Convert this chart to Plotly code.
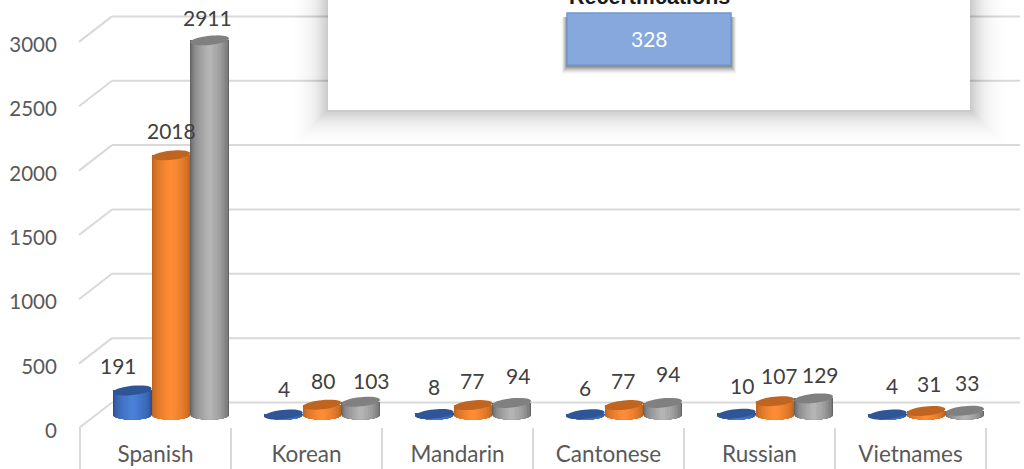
import math
import plotly.graph_objects as go

# ---- data ----
categories = ["Spanish", "Korean", "Mandarin", "Cantonese", "Russian", "Vietnames"]
series_a = [191, 4, 8, 6, 10, 4]
series_b = [2018, 80, 77, 77, 107, 31]
series_c = [2911, 103, 94, 94, 129, 33]
y_ticks = [0, 500, 1000, 1500, 2000, 2500, 3000]
panel_title = "Recertifications"
panel_value = "328"

# ---- layout geometry (pixels) ----
W, H = 1024, 469
PLOT_L, PLOT_R, FRONT_ZERO = 80, 986, 428
BAR_ZERO = 415
PX_PER_UNIT = 0.1287
CAT_PX = (PLOT_R - PLOT_L) / len(categories)
BAR_PX = 38.7
GROUP_SHIFT = 15.5
EDGE_A, EDGE_B = 19.4, 4.6
TILT = math.radians(-6)
LAYERS = [1.0, 0.96, 0.92, 0.87, 0.81, 0.74, 0.66, 0.57, 0.47, 0.36, 0.24, 0.12]

palette = [
    dict(edge="#28508f", mid="#4a80d8", top="#2f5597"),
    dict(edge="#b35c1a", mid="#ff8c35", top="#c0651f"),
    dict(edge="#646464", mid="#b4b4b4", top="#808080"),
]
all_series = [series_a, series_b, series_c]

# label nudges in pixels from the top of each cylinder
label_dx = [[-14, 1, 0, 0, 6, 5], [0, 1, -1, -1, 4, 3], [-2, 11, 6, 5, 7, 2]]
label_up = [[25, 26, 27, 27, 28, 29], [25, 24, 25, 25, 26, 28], [23, 21, 27, 29, 24, 28]]


def mix(c1, c2, t):
    a = [int(c1[i:i + 2], 16) for i in (1, 3, 5)]
    b = [int(c2[i:i + 2], 16) for i in (1, 3, 5)]
    return "#%02x%02x%02x" % tuple(round(a[i] + (b[i] - a[i]) * t) for i in range(3))


def px(x):
    return x / W


def py(y):
    return 1 - y / H


def ell_point(xc, yc, theta, tilt=TILT):
    """Point on a tilted ellipse around category xc, value yc; returns axis units."""
    dx = EDGE_A * math.cos(theta)
    dy = EDGE_B * math.sin(theta)
    xp = dx * math.cos(tilt) - dy * math.sin(tilt)
    yp = dx * math.sin(tilt) + dy * math.cos(tilt)
    return xc + xp / CAT_PX, yc - yp / PX_PER_UNIT


def to_path(points):
    return "M" + " L".join(f"{x:.4f},{y:.2f}" for x, y in points) + " Z"


fig = go.Figure()
shapes = []
annotations = []


def paper_line(x0, y0, x1, y1, color="#d9d9d9", width=2):
    shapes.append(dict(type="line", xref="paper", yref="paper", x0=px(x0), x1=px(x1),
                       y0=py(y0), y1=py(y1), layer="below",
                       line=dict(color=color, width=width)))


def paper_rect(x0, y0, x1, y1, fill, line=None, lw=0):
    shapes.append(dict(type="rect", xref="paper", yref="paper", x0=px(x0), x1=px(x1),
                       y0=py(y0), y1=py(y1), layer="above", fillcolor=fill,
                       line=dict(color=line or "rgba(0,0,0,0)", width=lw)))


# back wall and side wall lines
for tick in y_ticks:
    front_y = FRONT_ZERO - tick * PX_PER_UNIT
    paper_line(79, front_y, 112, front_y - 25.5)
    paper_line(112, front_y - 25.5, 1020, front_y - 25.5)

# category dividers
for i in range(len(categories) + 1):
    x = PLOT_L + i * CAT_PX
    paper_line(x, FRONT_ZERO, x, H)

# holds the value axis that carries the tick labels
fig.add_trace(go.Scatter(x=[categories[0]] * len(y_ticks), y=y_ticks, mode="markers",
                         marker=dict(opacity=0, size=1), showlegend=False, hoverinfo="skip"))

# cylinders
for s, values in enumerate(all_series):
    pal = palette[s]
    offset_px = (s - 1) * BAR_PX + GROUP_SHIFT
    for n, k in enumerate(LAYERS):
        t = (n / (len(LAYERS) - 1)) ** 0.75
        color = mix(pal["edge"], pal["mid"], t)
        w = BAR_PX * k / CAT_PX
        fig.add_trace(go.Bar(
            x=categories, y=values, yaxis="y2", width=w,
            offset=(offset_px / CAT_PX) - w / 2,
            marker=dict(color=color, line=dict(width=0)),
            showlegend=False, hoverinfo="skip" if n else None,
            name=f"Series {s + 1}",
        ))
        # rounded lower rim of the cylinder, one slice per gradient layer
        lim = math.acos(min(1, k))
        for i, v in enumerate(values):
            xc = i + offset_px / CAT_PX
            start = lim
            stop = math.pi - lim
            pts = [ell_point(xc, 0, start + (stop - start) * a / 16, 0) for a in range(17)]
            pts += [(pts[-1][0], 0), (pts[0][0], 0)]
            shapes.append(dict(type="path", xref="x", yref="y2", layer="below",
                               path=to_path(pts), fillcolor=color, line=dict(width=0)))
    # flat tops
    for i, v in enumerate(values):
        xc = i + offset_px / CAT_PX
        pts = [ell_point(xc, v, 2 * math.pi * a / 40) for a in range(40)]
        shapes.append(dict(type="path", xref="x", yref="y2", layer="above",
                           path=to_path(pts), fillcolor=pal["top"], line=dict(width=0)))
        annotations.append(dict(
            x=xc, y=v, xref="x", yref="y2", text=str(v), showarrow=False,
            xanchor="center", yanchor="middle",
            xshift=label_dx[s][i], yshift=label_up[s][i],
            font=dict(family="Lato, Carlito, sans-serif", size=21, color="#404040"),
        ))

# overlapping panel: soft shadow, white sheet, button
for e in range(34, 0, -2):
    a = 0.003 + 0.03 * (1 - e / 34) ** 2
    paper_rect(328 - e, -10, 970 + e, 110 + e, f"rgba(0,0,0,{a:.4f})")
paper_rect(328, -10, 970, 110, "#ffffff")
for e in range(8, 0, -1):
    a = 0.02 + 0.11 * (1 - e / 8)
    paper_rect(567 - e * 0.7, 17, 731 + e * 0.7, 66 + e, f"rgba(0,0,0,{a:.3f})")
paper_rect(567, 13, 731, 65, "#86a8dc", "#7096cf", 1.5)
annotations.append(dict(xref="paper", yref="paper", x=px(649), y=py(39), text=panel_value,
                        showarrow=False, xanchor="center", yanchor="middle",
                        font=dict(family="Lato, sans-serif", size=21, color="#ffffff")))
annotations.append(dict(xref="paper", yref="paper", x=px(649), y=py(-3), text=f"<b>{panel_title}</b>",
                        showarrow=False, xanchor="center", yanchor="middle",
                        font=dict(family="Liberation Sans, Arial, sans-serif", size=21.5, color="#1a1a1a")))

fig.update_layout(
    width=W, height=H, autosize=False,
    margin=dict(l=0, r=0, t=0, b=0),
    paper_bgcolor="#ffffff", plot_bgcolor="rgba(0,0,0,0)",
    barmode="overlay", bargap=0,
    showlegend=False,
    shapes=shapes, annotations=annotations,
    xaxis=dict(
        type="category", categoryorder="array", categoryarray=categories, automargin=False,
        domain=[px(PLOT_L), px(PLOT_R)], range=[-0.5, len(categories) - 0.5],
        showgrid=False, zeroline=False, showline=False,
        ticks="outside", ticklen=6, tickcolor="rgba(0,0,0,0)",
        tickfont=dict(family="Lato, Carlito, sans-serif", size=22.5, color="#595959"),
    ),
    yaxis=dict(
        domain=[py(FRONT_ZERO), 1], range=[0, FRONT_ZERO / PX_PER_UNIT], automargin=False,
        tickvals=y_ticks, showgrid=False, zeroline=False, showline=False,
        ticks="outside", ticklen=18, tickcolor="rgba(0,0,0,0)", ticklabelshift=3,
        tickfont=dict(family="Lato, Carlito, sans-serif", size=20.5, color="#595959"),
    ),
    yaxis2=dict(
        domain=[py(FRONT_ZERO), 1], overlaying="y", visible=False, automargin=False,
        range=[-(FRONT_ZERO - BAR_ZERO) / PX_PER_UNIT, BAR_ZERO / PX_PER_UNIT],
    ),
)

fig.write_html(
    "out.html",
    config=dict(displayModeBar=False),
    post_script="document.body.style.margin='0';document.body.style.overflow='hidden';",
)
